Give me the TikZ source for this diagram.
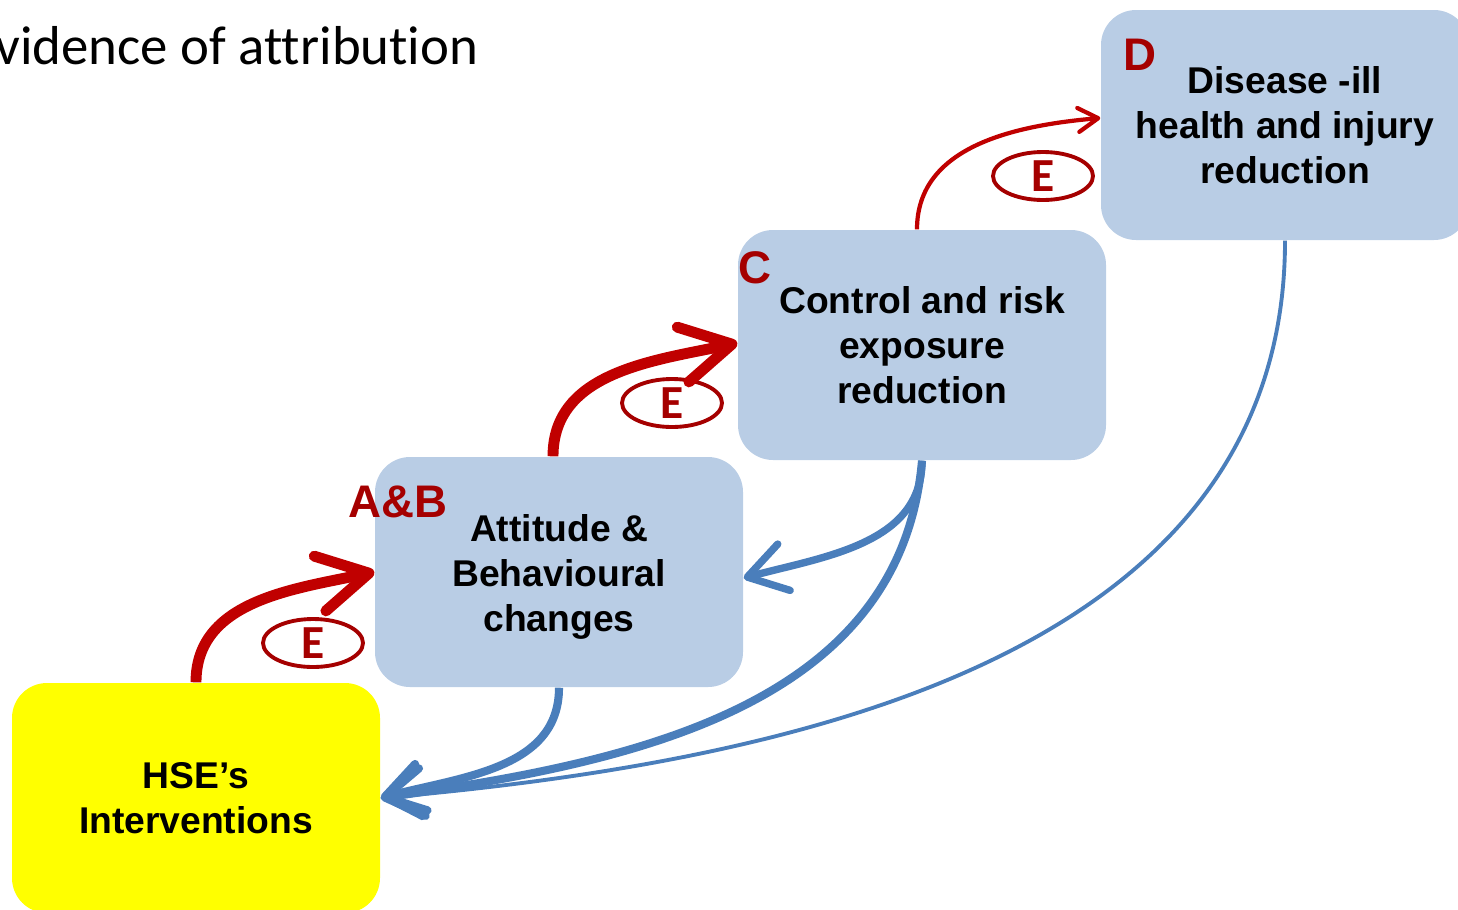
\documentclass[tikz,border=0pt]{standalone}
\usepackage{fontspec}
\setmainfont{Liberation Sans}
\newfontfamily\calibri[Ligatures=NoCommon]{Carlito}
\usetikzlibrary{arrows.meta,shapes.geometric}

\definecolor{boxblue}{RGB}{185,205,229}
\definecolor{hseyellow}{RGB}{255,255,0}
\definecolor{arrred}{RGB}{192,0,0}
\definecolor{labred}{RGB}{165,0,0}
\definecolor{arrblue}{RGB}{74,126,187}

\begin{document}
\begin{tikzpicture}[
                stage/.style={draw=none,fill=boxblue,rounded corners=0.35cm,
                  minimum width=3.68cm,minimum height=2.30cm,align=center,
                  font=\fontsize{10.6}{12.8}\selectfont\bfseries,text=black},
                tag/.style={text=labred,font=\fontsize{13}{15}\selectfont\bfseries},
                evid/.style={draw=labred,line width=1.1pt,ellipse,inner sep=0pt,
                  minimum width=1.0cm,minimum height=0.48cm,text=labred,
                  font=\calibri\fontsize{13.5}{15}\selectfont\bfseries},
                redarr/.style={draw=arrred,line width=3.1pt,
                  -{Straight Barb[round,length=0.50cm,width=0.56cm]}},
                bluearr/.style={draw=arrblue,line width=2.3pt,
                  -{Straight Barb[round,length=0.38cm,width=0.48cm]}}
                ]

\useasboundingbox (0,0) rectangle (14.58,-9.09);

% title
\node[anchor=base east,inner sep=0pt,font=\calibri\fontsize{15.6}{18}\selectfont] (title) at (4.79,-0.64) {Evidence of attribution};

                    % boxes
                    \node[stage,fill=hseyellow] (hse) at (1.96,-7.98) {HSE’s\\Interventions}; % 1
                    \node[stage] (ab) at (5.59,-5.72) {\rule{0pt}{10.4pt}Attitude \&\\Behavioural\\changes}; % 2
                    \node[stage] (cr) at (9.22,-3.45) {Control and risk\\exposure\\reduction}; % 3
                    \node[stage] (dis) at (12.85,-1.25) {Disease -ill\\health and injury\\reduction}; % 4

                    % letters
                    \node[tag] (tagab) at (3.98,-5.02) {A\&B};
                    \node[tag] (tagc) at (7.55,-2.68) {C};
                    \node[tag] (tagd) at (11.40,-0.55) {D};

                    % evidence
                    \node[evid] (e1) at (3.13,-6.43) {E};
                    \node[evid] (e2) at (6.72,-4.03) {E};
                    \node[evid] (e3) at (10.43,-1.76) {E};

                    % forward
                    \draw[redarr] (hse.north) to[out=90,in=192] (ab.west);
                    \draw[redarr] ([xshift=-0.06cm]ab.north) to[out=90,in=192] ([yshift=0.02cm]cr.west);
                    \draw[redarr,line width=1.2pt,-{Straight Barb[round,length=0.2cm,width=0.24cm]}]
                      ([xshift=-0.05cm]cr.north) to[out=90,in=185] ([yshift=0.07cm]dis.west);

                    % back
                    \draw[bluearr] (ab.south) to[out=-90,in=15] (hse.east);
                    \draw[bluearr,line width=2.1pt] (cr.south) to[out=-90,in=15] ([yshift=-0.06cm]ab.east);
                    \draw[bluearr] (cr.south) to[out=-95,in=8] (hse.east);
                    \draw[bluearr,line width=1.1pt] (dis.south) to[out=-90,in=5] (hse.east);

                    \end{tikzpicture}
\end{document}
